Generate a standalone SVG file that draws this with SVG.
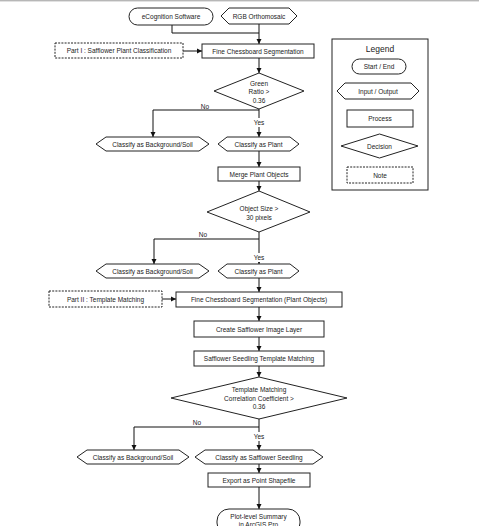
<svg xmlns="http://www.w3.org/2000/svg" width="479" height="526" viewBox="0 0 479 526">
<defs>
<marker id="ah" markerUnits="userSpaceOnUse" markerWidth="6" markerHeight="6" refX="5" refY="3" orient="auto">
<path d="M0,0.5 L5,3 L0,5.5 Z" fill="#111"/>
</marker>
<style>
.s{fill:#fff;stroke:#222;stroke-width:1}
.d{fill:#fff;stroke:#222;stroke-width:1;stroke-dasharray:2,1.2}
.c{fill:none;stroke:#111;stroke-width:1}
.a{marker-end:url(#ah)}
text{font-family:"Liberation Sans",Arial,sans-serif;font-size:6.5px;fill:#222;text-anchor:middle;dominant-baseline:central}
.lg{font-size:8.5px}
.lb{fill:#fff}
</style>
</defs>
<rect width="479" height="526" fill="#fff"/>
<line x1="0" y1="0.8" x2="479" y2="0.8" stroke="#999" stroke-width="1"/>

<g id="connectors">
<path class="c" d="M172,25 V33 H259"/>
<path class="c a" d="M259,24 V44"/>
<path class="c a" d="M183,51 H202"/>
<path class="c a" d="M259,58 V73"/>
<path class="c a" d="M259,109 V137"/>
<path class="c a" d="M259,110 H153 V137"/>
<path class="c a" d="M259,151 V167"/>
<path class="c a" d="M259,181 V191"/>
<path class="c a" d="M259,232 V264"/>
<path class="c a" d="M259,239 H154 V264"/>
<path class="c a" d="M259,278 V292"/>
<path class="c a" d="M162,299 H176"/>
<path class="c a" d="M259,307 V321"/>
<path class="c a" d="M259,337 V351"/>
<path class="c a" d="M259,366 V377"/>
<path class="c a" d="M259,419 V450"/>
<path class="c a" d="M259,427 H134 V450"/>
<path class="c a" d="M259,464 V473"/>
<path class="c a" d="M259,487 V509"/>
<text x="205" y="106">No</text>
<rect class="lb" x="252" y="118" width="14" height="9"/>
<text x="259" y="122.5">Yes</text>
<text x="203" y="234">No</text>
<rect class="lb" x="252" y="253" width="14" height="9"/>
<text x="259" y="257.5">Yes</text>
<text x="197" y="422">No</text>
<rect class="lb" x="252" y="432" width="14" height="9"/>
<text x="259" y="436.5">Yes</text>
</g>

<g id="ecognition">
<rect class="s" x="129" y="8" width="84" height="17" rx="8.5"/>
<text x="171" y="16.5">eCognition Software</text>
</g>
<g id="rgb">
<polygon class="s" points="221,16 229,8 289,8 297,16 289,24 229,24"/>
<text x="259" y="16">RGB Orthomosaic</text>
</g>
<g id="part1">
<rect class="d" x="55" y="43" width="128" height="15"/>
<text x="119" y="50.5">Part I : Safflower Plant Classification</text>
</g>
<g id="fine1">
<rect class="s" x="202" y="44" width="112" height="14"/>
<text x="258" y="51">Fine Chessboard Segmentation</text>
</g>
<g id="green">
<polygon class="s" points="259,73 304,91 259,109 214,91"/>
<text x="259" y="83">Green</text>
<text x="259" y="91.5">Ratio &gt;</text>
<text x="259" y="100">0.36</text>
</g>
<g id="bg1">
<polygon class="s" points="96,144 106,137 199,137 209,144 199,151 106,151"/>
<text x="152.5" y="144">Classify as Background/Soil</text>
</g>
<g id="plant1">
<polygon class="s" points="218,144 227,137 290,137 299,144 290,151 227,151"/>
<text x="258.5" y="144">Classify as Plant</text>
</g>
<g id="merge">
<rect class="s" x="218" y="167" width="82" height="14"/>
<text x="259" y="174">Merge Plant Objects</text>
</g>
<g id="size">
<polygon class="s" points="259,191 310,212 259,232 207,212"/>
<text x="259" y="208">Object Size &gt;</text>
<text x="259" y="217.5">30 pixels</text>
</g>
<g id="bg2">
<polygon class="s" points="96,271 106,264 199,264 209,271 199,278 106,278"/>
<text x="152.5" y="271">Classify as Background/Soil</text>
</g>
<g id="plant2">
<polygon class="s" points="218,271 227,264 290,264 299,271 290,278 227,278"/>
<text x="258.5" y="271">Classify as Plant</text>
</g>
<g id="part2">
<rect class="d" x="49" y="291" width="113" height="16"/>
<text x="105.5" y="299">Part II : Template Matching</text>
</g>
<g id="fine2">
<rect class="s" x="176" y="292" width="166" height="15"/>
<text x="259" y="299.5">Fine Chessboard Segmentation (Plant Objects)</text>
</g>
<g id="layer">
<rect class="s" x="194" y="321" width="130" height="16"/>
<text x="259" y="329">Create Safflower Image Layer</text>
</g>
<g id="tm">
<rect class="s" x="194" y="351" width="130" height="15"/>
<text x="259" y="358.5">Safflower Seedling Template Matching</text>
</g>
<g id="corr">
<polygon class="s" points="259,377 347,398 259,419 171,398"/>
<text x="259" y="389.5">Template Matching</text>
<text x="259" y="398">Correlation Coefficient &gt;</text>
<text x="259" y="406.5">0.36</text>
</g>
<g id="bg3">
<polygon class="s" points="77,457 87,450 179,450 189,457 179,464 87,464"/>
<text x="133" y="457">Classify as Background/Soil</text>
</g>
<g id="seedling">
<polygon class="s" points="195,457 205,450 313,450 323,457 313,464 205,464"/>
<text x="259" y="457">Classify as Safflower Seedling</text>
</g>
<g id="export">
<rect class="s" x="208" y="473" width="102" height="14"/>
<text x="259" y="480">Export as Point Shapefile</text>
</g>
<g id="plot">
<rect class="s" x="217" y="509" width="83" height="26" rx="12"/>
<text x="258.5" y="516.5">Plot-level Summary</text>
<text x="258.5" y="524">in ArcGIS Pro</text>
</g>

<g id="legend">
<rect class="s" x="332" y="39" width="96" height="151"/>
<text class="lg" x="380" y="49">Legend</text>
<rect class="s" x="352" y="59" width="54" height="15" rx="7.5"/>
<text x="379" y="66.5">Start / End</text>
<polygon class="s" points="337,91 345,83 411,83 419,91 411,99 345,99"/>
<text x="378" y="91">Input / Output</text>
<rect class="s" x="347" y="110" width="66" height="17"/>
<text x="380" y="118.5">Process</text>
<polygon class="s" points="379.5,134 418,146 379.5,158 341,146"/>
<text x="379.5" y="146">Decision</text>
<rect class="d" x="347" y="167" width="66" height="16"/>
<text x="380" y="175">Note</text>
</g>
</svg>
